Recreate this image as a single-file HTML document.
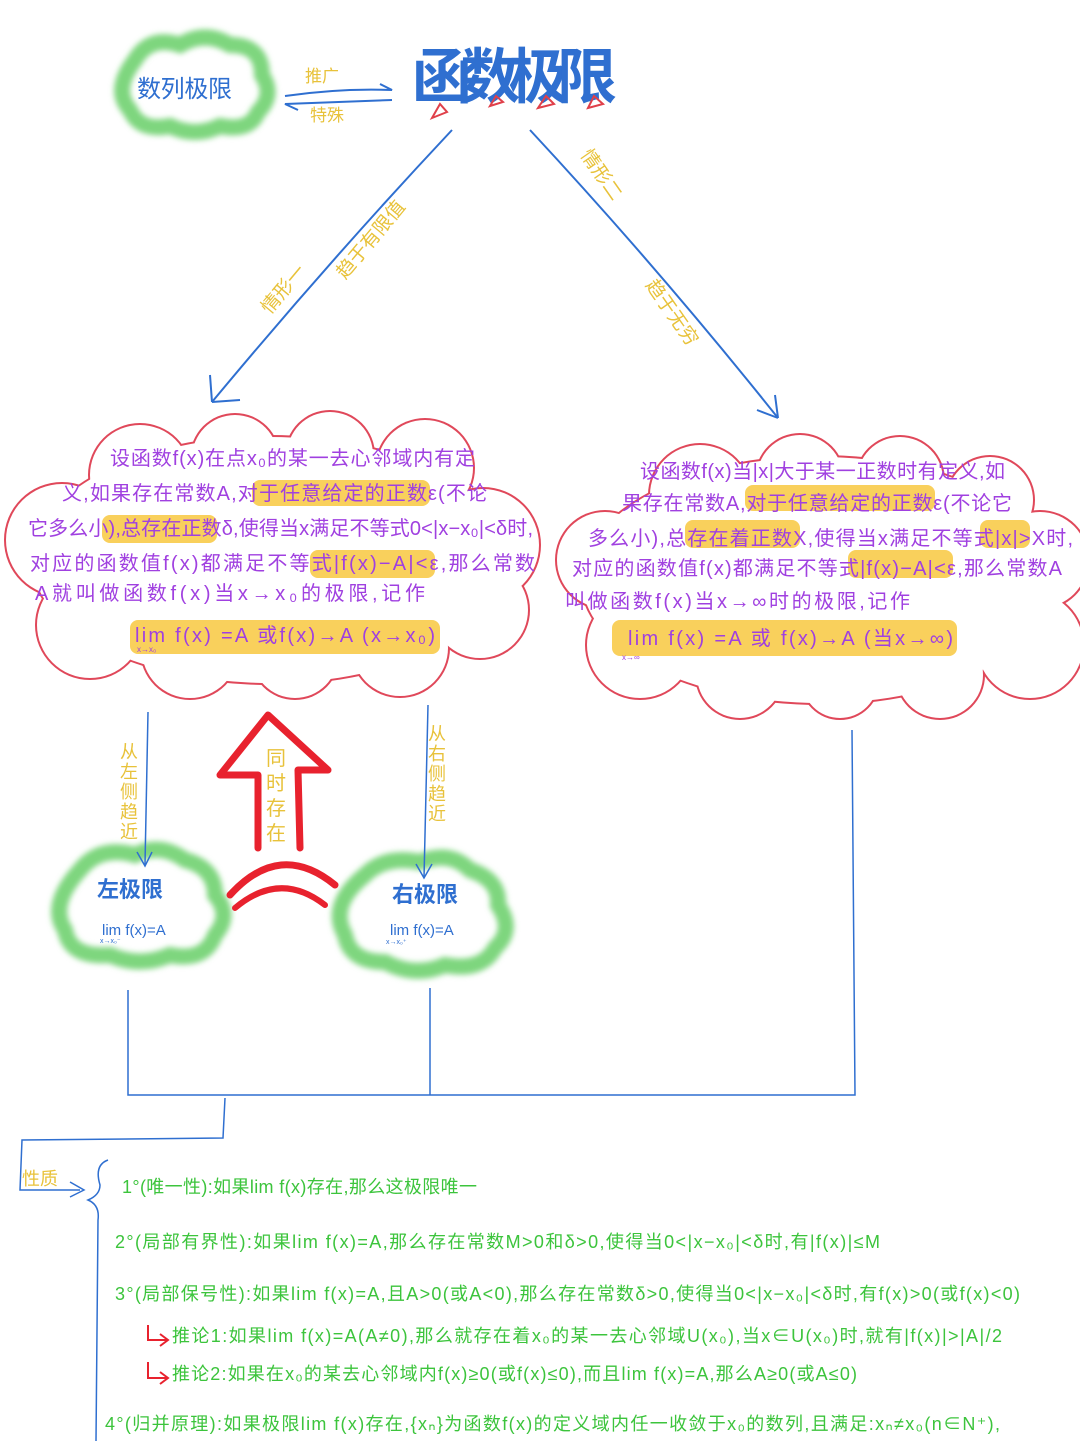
<!DOCTYPE html>
<html><head><meta charset="utf-8"><style>
html,body{margin:0;padding:0;background:#fff}
svg text{font-family:"Liberation Sans","Noto Sans CJK SC",sans-serif}
</style></head><body>
<svg width="1080" height="1441" viewBox="0 0 1080 1441" xmlns="http://www.w3.org/2000/svg">
<defs>
<filter id="bl" x="-20%" y="-20%" width="140%" height="140%"><feGaussianBlur stdDeviation="3"/></filter>
</defs>
<rect width="1080" height="1441" fill="#fff"/>

<!-- green clouds -->
<g filter="url(#bl)" fill="none" stroke="#7ed67e" stroke-width="16">
<path d="M135,60 Q150,35 180,45 Q205,30 230,45 Q262,45 262,75 Q275,95 258,112 Q250,132 220,126 Q195,138 170,126 Q140,132 130,110 Q112,90 135,60Z"/>
<path d="M80,870 Q100,845 135,855 Q160,842 185,860 Q215,868 215,895 Q232,915 215,935 Q205,962 170,955 Q140,968 110,955 Q70,958 65,930 Q48,905 80,870Z"/>
<path d="M365,875 Q385,855 420,862 Q450,850 470,870 Q500,880 498,905 Q515,930 495,948 Q482,972 445,965 Q415,978 385,962 Q350,962 345,935 Q328,905 365,875Z"/>
</g>
<text x="137" y="97" font-size="24" fill="#2f6fd0" textLength="95">数列极限</text>
<text x="97" y="897" font-size="22" fill="#2f6fd0" font-weight="bold">左极限</text>
<text x="102" y="935" font-size="15" fill="#2f6fd0">lim f(x)=A</text>
<text x="100" y="943" font-size="7" fill="#2f6fd0">x→x₀⁻</text>
<text x="392" y="902" font-size="22" fill="#2f6fd0" font-weight="bold">右极限</text>
<text x="390" y="935" font-size="15" fill="#2f6fd0">lim f(x)=A</text>
<text x="386" y="944" font-size="7" fill="#2f6fd0">x→x₀⁺</text>

<!-- title -->
<text x="412" y="98" font-size="60" fill="#2f6fd0" textLength="205" font-weight="bold">函数极限</text>
<g fill="none" stroke="#e0404a" stroke-width="2">
<path d="M432,118 L447,112 L440,104Z"/><path d="M490,106 L503,102 L496,96Z"/><path d="M538,108 L554,104 L546,96Z"/><path d="M588,108 L603,104 L594,96Z"/>
</g>
<path d="M285,96 Q340,88 392,90 L380,84" fill="none" stroke="#2f6fd0" stroke-width="2"/>
<path d="M392,100 Q340,102 285,104 L298,110" fill="none" stroke="#2f6fd0" stroke-width="2"/>
<text x="305" y="82" font-size="17" fill="#e8c23a">推广</text>
<text x="310" y="121" font-size="17" fill="#e8c23a">特殊</text>

<!-- main diagonals -->
<path d="M452,130 Q330,260 212,402" fill="none" stroke="#2f6fd0" stroke-width="2"/>
<path d="M212,402 L210,375 M212,402 L240,400" stroke="#2f6fd0" stroke-width="2" fill="none"/>
<path d="M530,130 Q660,270 778,418" fill="none" stroke="#2f6fd0" stroke-width="2"/>
<path d="M778,418 L757,410 M778,418 L775,395" stroke="#2f6fd0" stroke-width="2" fill="none"/>
<text transform="translate(270,315) rotate(-50)" font-size="19" fill="#e8c23a">情形一</text>
<text transform="translate(345,280) rotate(-50)" font-size="19" fill="#e8c23a">趋于有限值</text>
<text transform="translate(580,155) rotate(55)" font-size="19" fill="#e8c23a">情形二</text>
<text transform="translate(645,285) rotate(55)" font-size="19" fill="#e8c23a">趋于无穷</text>

<!-- left red cloud -->
<g fill="#e0485a">
<circle cx="140" cy="475" r="52"/><circle cx="235" cy="458" r="45"/><circle cx="330" cy="455" r="45"/><circle cx="425" cy="468" r="50"/>
<circle cx="62" cy="540" r="58"/><circle cx="483" cy="545" r="58"/>
<circle cx="90" cy="625" r="55"/><circle cx="190" cy="650" r="50"/><circle cx="295" cy="655" r="45"/><circle cx="400" cy="648" r="50"/><circle cx="480" cy="610" r="50"/>
<ellipse cx="270" cy="560" rx="240" ry="125"/>
</g>
<g fill="#fff">
<circle cx="140" cy="475" r="50"/><circle cx="235" cy="458" r="43"/><circle cx="330" cy="455" r="43"/><circle cx="425" cy="468" r="48"/>
<circle cx="62" cy="540" r="56"/><circle cx="483" cy="545" r="56"/>
<circle cx="90" cy="625" r="53"/><circle cx="190" cy="650" r="48"/><circle cx="295" cy="655" r="43"/><circle cx="400" cy="648" r="48"/><circle cx="480" cy="610" r="48"/>
<ellipse cx="270" cy="560" rx="238" ry="123"/>
</g>
<!-- right red cloud -->
<g fill="#e0485a">
<circle cx="700" cy="495" r="52"/><circle cx="800" cy="478" r="45"/><circle cx="900" cy="480" r="45"/><circle cx="990" cy="500" r="45"/>
<circle cx="605" cy="560" r="50"/><circle cx="1040" cy="560" r="50"/>
<circle cx="640" cy="645" r="55"/><circle cx="740" cy="675" r="45"/><circle cx="840" cy="680" r="40"/><circle cx="940" cy="675" r="45"/><circle cx="1030" cy="645" r="55"/>
<ellipse cx="820" cy="580" rx="240" ry="125"/>
</g>
<g fill="#fff">
<circle cx="700" cy="495" r="50"/><circle cx="800" cy="478" r="43"/><circle cx="900" cy="480" r="43"/><circle cx="990" cy="500" r="43"/>
<circle cx="605" cy="560" r="48"/><circle cx="1040" cy="560" r="48"/>
<circle cx="640" cy="645" r="53"/><circle cx="740" cy="675" r="43"/><circle cx="840" cy="680" r="38"/><circle cx="940" cy="675" r="43"/><circle cx="1030" cy="645" r="53"/>
<ellipse cx="820" cy="580" rx="238" ry="123"/>
</g>

<!-- highlights -->
<g fill="#f8c840" opacity="0.85">
<rect x="252" y="480" width="178" height="26" rx="8"/>
<rect x="102" y="515" width="115" height="28" rx="8"/>
<rect x="310" y="550" width="125" height="28" rx="8"/>
<rect x="130" y="620" width="310" height="34" rx="8"/>
<rect x="745" y="485" width="190" height="26" rx="8"/>
<rect x="685" y="520" width="115" height="28" rx="8"/>
<rect x="980" y="520" width="50" height="28" rx="8"/>
<rect x="848" y="550" width="105" height="28" rx="8"/>
<rect x="612" y="620" width="345" height="36" rx="8"/>
</g>
<g fill="#a040e0" font-size="20">
<text x="110" y="465" textLength="365">设函数f(x)在点x₀的某一去心邻域内有定</text>
<text x="62" y="500" textLength="425">义,如果存在常数A,对于任意给定的正数ε(不论</text>
<text x="28" y="535" textLength="505">它多么小),总存在正数δ,使得当x满足不等式0&lt;|x−x₀|&lt;δ时,</text>
<text x="30" y="570" textLength="505">对应的函数值f(x)都满足不等式|f(x)−A|&lt;ε,那么常数</text>
<text x="35" y="600" textLength="390">A就叫做函数f(x)当x→x₀的极限,记作</text>
<text x="135" y="642" textLength="300">lim f(x) =A 或f(x)→A (x→x₀)</text>
<text x="640" y="478" textLength="365">设函数f(x)当|x|大于某一正数时有定义,如</text>
<text x="622" y="510" textLength="390">果存在常数A,对于任意给定的正数ε(不论它</text>
<text x="588" y="545" textLength="485">多么小),总存在着正数X,使得当x满足不等式|x|&gt;X时,</text>
<text x="572" y="575" textLength="490">对应的函数值f(x)都满足不等式|f(x)−A|&lt;ε,那么常数A</text>
<text x="565" y="608" textLength="345">叫做函数f(x)当x→∞时的极限,记作</text>
<text x="628" y="645" textLength="325">lim f(x) =A 或 f(x)→A (当x→∞)</text>
</g>
<text x="137" y="652" font-size="8" fill="#a040e0">x→x₀</text>
<text x="622" y="660" font-size="8" fill="#a040e0">x→∞</text>

<!-- lower connectors -->
<g fill="none" stroke="#2f6fd0" stroke-width="1.5">
<path d="M148,712 L145,865"/><path d="M137,852 L145,866 L152,852"/>
<path d="M428,705 L424,878"/><path d="M416,864 L424,878 L432,864"/>
<path d="M128,990 L128,1095 L855,1095 L852,730"/>
<path d="M430,988 L430,1095"/>
<path d="M225,1098 L223,1138 L22,1140 L20,1190 L80,1190"/>
<path d="M70,1182 L84,1190 L70,1197"/>
<path d="M108,1160 Q94,1165 100,1185 Q100,1195 88,1200 Q100,1205 98,1220 L96,1441"/>
</g>
<g fill="#e8c23a" font-size="18">
<text x="120" y="758">从</text><text x="120" y="778">左</text><text x="120" y="798">侧</text><text x="120" y="818">趋</text><text x="120" y="838">近</text>
<text x="428" y="740">从</text><text x="428" y="760">右</text><text x="428" y="780">侧</text><text x="428" y="800">趋</text><text x="428" y="820">近</text>
<text x="266" y="765" font-size="20">同</text><text x="266" y="790" font-size="20">时</text><text x="266" y="815" font-size="20">存</text><text x="266" y="840" font-size="20">在</text>
</g>
<path d="M258,848 L258,775 L220,775 L268,715 L328,770 L298,770 L300,848" fill="none" stroke="#e8222e" stroke-width="7" stroke-linejoin="round" stroke-linecap="round"/>
<path d="M230,895 Q280,840 335,885" fill="none" stroke="#e8222e" stroke-width="7" stroke-linecap="round"/>
<path d="M235,908 Q280,870 325,905" fill="none" stroke="#e8222e" stroke-width="6" stroke-linecap="round"/>

<!-- properties -->
<text x="22" y="1185" font-size="18" fill="#e8c23a">性质</text>
<g fill="#3cc43c" font-size="18">
<text x="122" y="1193" textLength="355">1°(唯一性):如果lim f(x)存在,那么这极限唯一</text>
<text x="115" y="1248" textLength="765">2°(局部有界性):如果lim f(x)=A,那么存在常数M&gt;0和δ&gt;0,使得当0&lt;|x−x₀|&lt;δ时,有|f(x)|≤M</text>
<text x="115" y="1300" textLength="905">3°(局部保号性):如果lim f(x)=A,且A&gt;0(或A&lt;0),那么存在常数δ&gt;0,使得当0&lt;|x−x₀|&lt;δ时,有f(x)&gt;0(或f(x)&lt;0)</text>
<text x="172" y="1342" textLength="830">推论1:如果lim f(x)=A(A≠0),那么就存在着x₀的某一去心邻域U(x₀),当x∈U(x₀)时,就有|f(x)|&gt;|A|/2</text>
<text x="172" y="1380" textLength="685">推论2:如果在x₀的某去心邻域内f(x)≥0(或f(x)≤0),而且lim f(x)=A,那么A≥0(或A≤0)</text>
<text x="105" y="1430" textLength="895">4°(归并原理):如果极限lim f(x)存在,{xₙ}为函数f(x)的定义域内任一收敛于x₀的数列,且满足:xₙ≠x₀(n∈N⁺),</text>
</g>
<g fill="none" stroke="#e8222e" stroke-width="2">
<path d="M148,1325 L148,1340 L168,1340 M160,1334 L168,1340 L160,1346"/>
<path d="M148,1362 L148,1378 L168,1378 M160,1372 L168,1378 L160,1384"/>
</g>
</svg>
</body></html>
